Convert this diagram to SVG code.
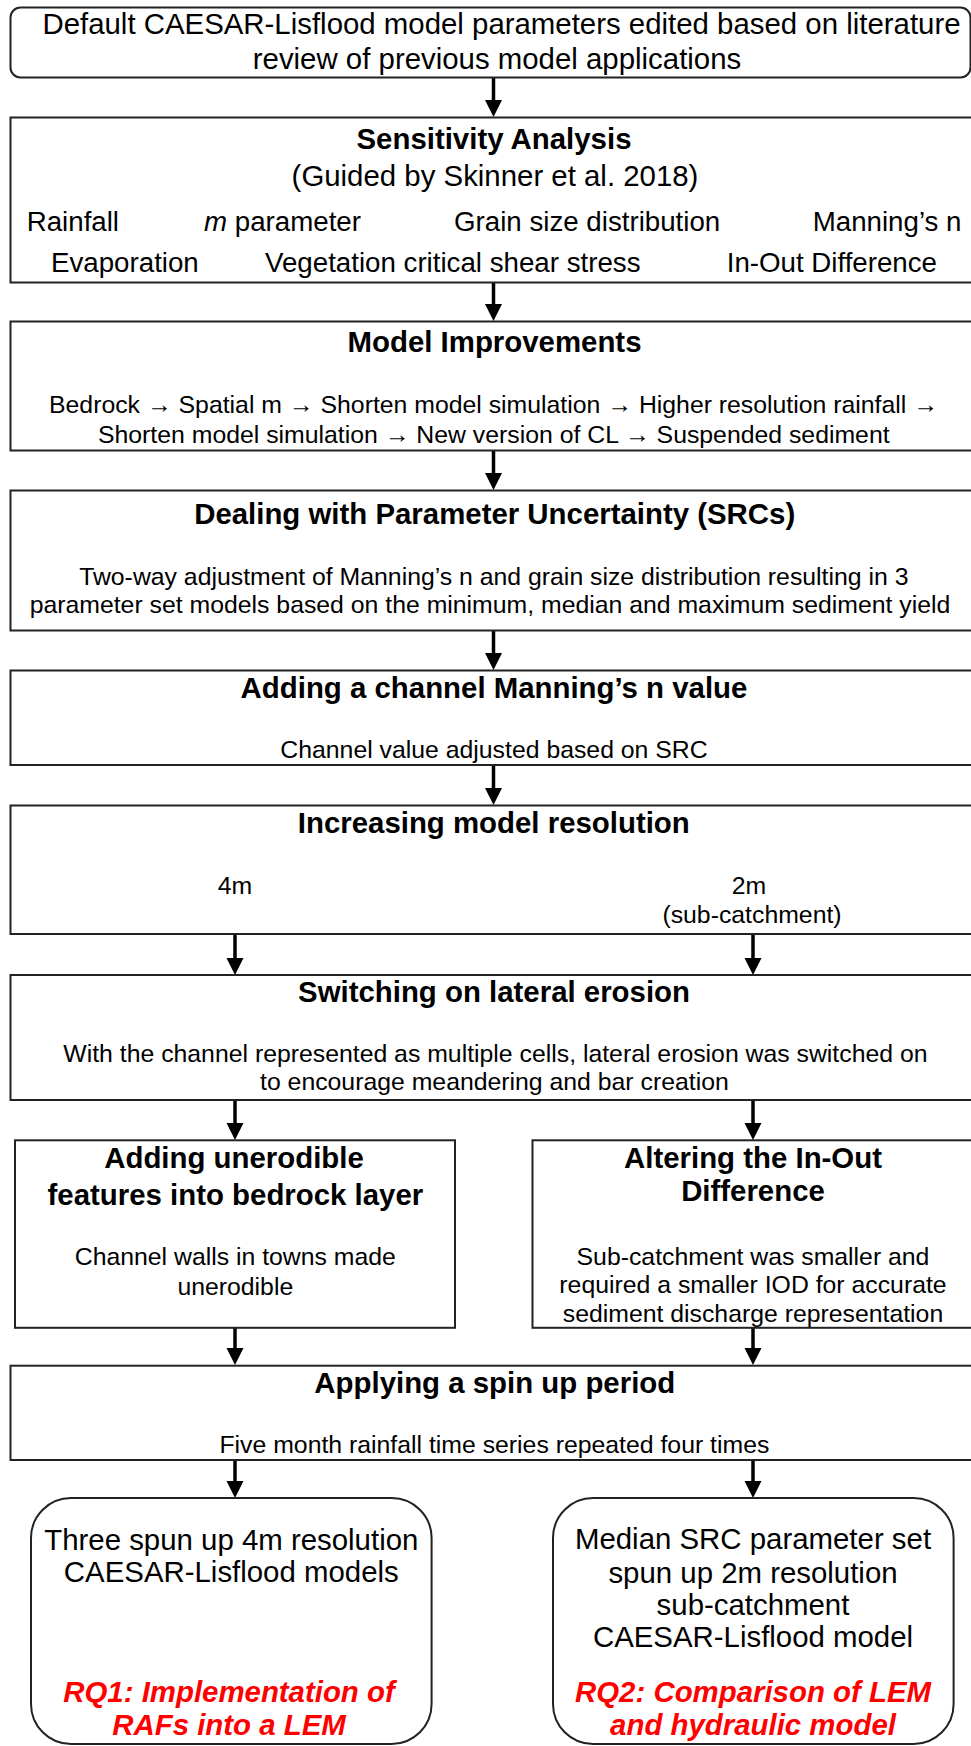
<svg xmlns="http://www.w3.org/2000/svg" width="971" height="1746" viewBox="0 0 971 1746">
<style>
text { font-family: "Liberation Sans", Arial, Helvetica, sans-serif; fill: #000; }
.box { fill: #fff; stroke: #222; stroke-width: 2; }
.t { font-size: 29.4px; font-weight: bold; text-anchor: middle; }
.l { font-size: 29.4px; text-anchor: middle; }
.b { font-size: 24.8px; text-anchor: middle; }
.s { font-size: 27.7px; }
.rq { font-size: 29.4px; font-weight: bold; font-style: italic; fill: #ff0000; text-anchor: middle; }
.c { stroke: #000; stroke-width: 3.5; fill: none; }
</style>
<defs>
<marker id="ah" markerUnits="userSpaceOnUse" markerWidth="18" markerHeight="18" refX="0" refY="8.5" orient="auto">
<path d="M0,0 L17,8.5 L0,17 z" fill="#000"/>
</marker>
</defs>
<rect width="971" height="1746" fill="#fff"/>

<g id="connectors">
<line class="c" x1="493.5" y1="78" x2="493.5" y2="100" marker-end="url(#ah)"/>
<line class="c" x1="493.5" y1="283" x2="493.5" y2="304" marker-end="url(#ah)"/>
<line class="c" x1="493.5" y1="451" x2="493.5" y2="473" marker-end="url(#ah)"/>
<line class="c" x1="493.5" y1="631" x2="493.5" y2="653" marker-end="url(#ah)"/>
<line class="c" x1="493.5" y1="765" x2="493.5" y2="788" marker-end="url(#ah)"/>
<line class="c" x1="235" y1="934" x2="235" y2="958" marker-end="url(#ah)"/>
<line class="c" x1="753" y1="934" x2="753" y2="958" marker-end="url(#ah)"/>
<line class="c" x1="235" y1="1100" x2="235" y2="1123" marker-end="url(#ah)"/>
<line class="c" x1="753" y1="1100" x2="753" y2="1123" marker-end="url(#ah)"/>
<line class="c" x1="235" y1="1328" x2="235" y2="1348" marker-end="url(#ah)"/>
<line class="c" x1="753" y1="1328" x2="753" y2="1348" marker-end="url(#ah)"/>
<line class="c" x1="235" y1="1460" x2="235" y2="1481" marker-end="url(#ah)"/>
<line class="c" x1="753" y1="1460" x2="753" y2="1481" marker-end="url(#ah)"/>
</g>

<g id="start">
<rect class="box" x="10.5" y="7.5" width="960" height="70" rx="10" ry="10"/>
<text class="l" x="501.5" y="34">Default CAESAR-Lisflood model parameters edited based on literature</text>
<text class="l" x="497" y="68.5">review of previous model applications</text>
</g>

<g id="sensitivity">
<rect class="box" x="10.5" y="117.5" width="962" height="165"/>
<text class="t" x="494" y="149">Sensitivity Analysis</text>
<text class="l" x="495" y="185.5">(Guided by Skinner et al. 2018)</text>
<text class="s" x="26.7" y="230.5">Rainfall</text>
<text class="s" x="204" y="230.5"><tspan font-style="italic">m</tspan> parameter</text>
<text class="s" x="454" y="230.5">Grain size distribution</text>
<text class="s" x="812.7" y="230.5">Manning’s n</text>
<text class="s" x="51" y="271.5">Evaporation</text>
<text class="s" x="265" y="271.5">Vegetation critical shear stress</text>
<text class="s" x="726.7" y="271.5">In-Out Difference</text>
</g>

<g id="improvements">
<rect class="box" x="10.5" y="321.5" width="962" height="129"/>
<text class="t" x="494.5" y="352.3">Model Improvements</text>
<text class="b" x="493.5" y="413.3">Bedrock → Spatial m → Shorten model simulation → Higher resolution rainfall →</text>
<text class="b" x="493.8" y="442.7">Shorten model simulation → New version of CL → Suspended sediment</text>
</g>

<g id="uncertainty">
<rect class="box" x="10.5" y="490.5" width="962" height="140"/>
<text class="t" x="494.7" y="524">Dealing with Parameter Uncertainty (SRCs)</text>
<text class="b" x="493.8" y="585">Two-way adjustment of Manning’s n and grain size distribution resulting in 3</text>
<text class="b" x="490" y="613.3">parameter set models based on the minimum, median and maximum sediment yield</text>
</g>

<g id="channel">
<rect class="box" x="10.5" y="670.5" width="962" height="94.5"/>
<text class="t" x="494" y="698.3">Adding a channel Manning’s n value</text>
<text class="b" x="494" y="758.3">Channel value adjusted based on SRC</text>
</g>

<g id="resolution">
<rect class="box" x="10.5" y="805.5" width="962" height="128.5"/>
<text class="t" x="493.8" y="832.7">Increasing model resolution</text>
<text class="b" x="235" y="894">4m</text>
<text class="b" x="749" y="894">2m</text>
<text class="b" x="752" y="923.3">(sub-catchment)</text>
</g>

<g id="lateral">
<rect class="box" x="10.5" y="975" width="962" height="125"/>
<text class="t" x="494" y="1001.7">Switching on lateral erosion</text>
<text class="b" x="495.4" y="1061.7">With the channel represented as multiple cells, lateral erosion was switched on</text>
<text class="b" x="494.4" y="1090">to encourage meandering and bar creation</text>
</g>

<g id="unerodible">
<rect class="box" x="15" y="1140.3" width="440" height="187.5"/>
<text class="t" x="234" y="1168.3">Adding unerodible</text>
<text class="t" x="235.4" y="1205">features into bedrock layer</text>
<text class="b" x="235.3" y="1265">Channel walls in towns made</text>
<text class="b" x="235.3" y="1295">unerodible</text>
</g>

<g id="iod">
<rect class="box" x="532.5" y="1140.3" width="440" height="187.5"/>
<text class="t" x="753" y="1168.3">Altering the In-Out</text>
<text class="t" x="753" y="1200.7">Difference</text>
<text class="b" x="753" y="1265">Sub-catchment was smaller and</text>
<text class="b" x="753" y="1293.3">required a smaller IOD for accurate</text>
<text class="b" x="753" y="1321.7">sediment discharge representation</text>
</g>

<g id="spinup">
<rect class="box" x="10.5" y="1365.7" width="962" height="94.3"/>
<text class="t" x="494.8" y="1393.3">Applying a spin up period</text>
<text class="b" x="494.4" y="1453.3">Five month rainfall time series repeated four times</text>
</g>

<g id="rq1">
<rect class="box" x="31" y="1498" width="400.6" height="246" rx="40" ry="40"/>
<text class="l" x="231.3" y="1550">Three spun up 4m resolution</text>
<text class="l" x="231.3" y="1581.7">CAESAR-Lisflood models</text>
<text class="rq" x="229" y="1701.7">RQ1: Implementation of</text>
<text class="rq" x="229" y="1735">RAFs into a LEM</text>
</g>

<g id="rq2">
<rect class="box" x="553" y="1498" width="400.6" height="246" rx="40" ry="40"/>
<text class="l" x="753" y="1549.3">Median SRC parameter set</text>
<text class="l" x="753" y="1582.7">spun up 2m resolution</text>
<text class="l" x="753" y="1615">sub-catchment</text>
<text class="l" x="753" y="1646.7">CAESAR-Lisflood model</text>
<text class="rq" x="753" y="1701.7">RQ2: Comparison of LEM</text>
<text class="rq" x="753" y="1735">and hydraulic model</text>
</g>
</svg>
